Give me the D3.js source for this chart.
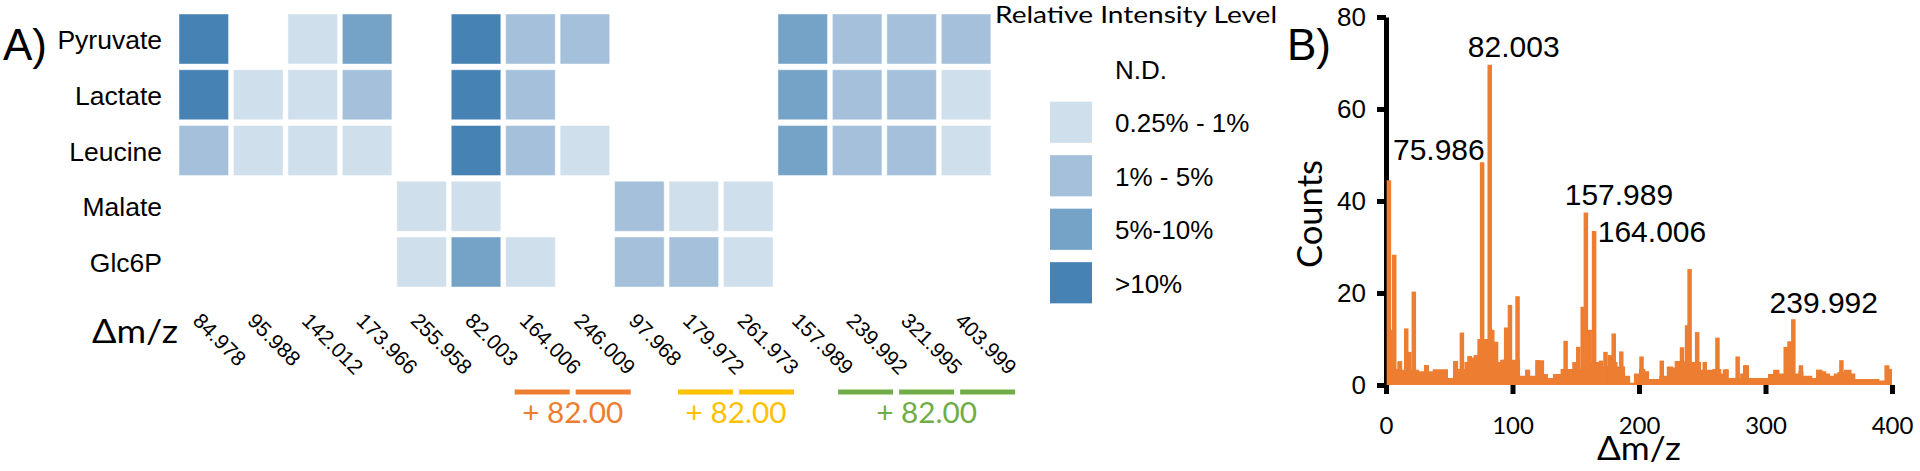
<!DOCTYPE html>
<html><head><meta charset="utf-8">
<script src="https://cdn.jsdelivr.net/npm/d3@7"></script>
<style>body{margin:0;background:#fff;} svg{display:block}</style>
</head><body>
<svg id="chart" width="1920" height="471"></svg>
<script>
// ---------- Panel A data ----------
const compounds = ["Pyruvate", "Lactate", "Leucine", "Malate", "Glc6P"];
const deltaMz = ["84.978","95.988","142.012","173.966","255.958","82.003","164.006","246.009","97.968","179.972","261.973","157.989","239.992","321.995","403.999"];
// intensity level per Δm/z column: 0 = N.D., 1 = 0.25-1%, 2 = 1-5%, 3 = 5-10%, 4 = >10%
const pyruvateLevels = [4,0,1,3,0,4,2,2,0,0,0,3,2,2,2];
const lactateLevels  = [4,1,1,2,0,4,2,0,0,0,0,3,2,2,1];
const leucineLevels  = [2,1,1,1,0,4,2,1,0,0,0,3,2,2,1];
const malateLevels   = [0,0,0,0,1,1,0,0,2,1,1,0,0,0,0];
const glc6pLevels    = [0,0,0,0,1,3,1,0,2,2,1,0,0,0,0];
const levelLabels = ["N.D.", "0.25% - 1%", "1% - 5%", "5%-10%", ">10%"];
const levelColors = ["#ffffff", "#d0dfec", "#a4c0da", "#75a3c8", "#4682b4"];
const groupColumns = [[6,7],[9,10],[12,13,14]];
const groupColors = ["#ed7d31", "#ffc000", "#70ad47"];
const groupLabels = ["+ 82.00", "+ 82.00", "+ 82.00"];

// ---------- Panel B data ----------
const baselineMz = [0,3,9,12,26,30,34,37,49,53,57,62,65,68,72,78,84,88,92,100,106,110,114,118,125,128,132,138,146,155,168,170,176,183,189,193,196,200,205,208,216,222,227,229,236,243,249,258,265,268,271,280,283,287,302,306,311,326,330,337,340,345,348,351,354,357,362,368,371,390,394,398,400];
const baselineCounts = [12,3.5,5,3.3,3,4.3,3,3.4,1.5,5.2,3.5,5,6.3,6,6.5,10,5.5,5,5.5,5.5,2,3.3,2,5.4,2.4,1.5,2.4,3.5,3.5,5,5,4,5,4,2,0.5,2.5,3.5,3,1.3,2,4,3.8,5.2,5,5,3.3,3.5,2.5,3.4,1.5,2.5,4.3,1.5,2.4,3.3,2.5,3,2,1.5,3.3,3,2.5,2,2.5,2.8,3.3,2.5,1.3,1,4.3,3.5,5];
const peakMz = [2.3,3.5,6.5,11,16,18.5,22,32,55,60,66,71,74,76,78.5,82,84,87,92,95,98,104,112,120,142,149,152,155.5,158,161,164.5,170,173.5,177,180,186,202,218,230,234,238,240,246,252,262,268,278,284,316,319,322,328,342,360];
const peakCounts = [44.5,12,28.3,5.2,12.3,7.2,20.3,4.3,5.2,11.4,6.3,6.5,10,48.4,10,69.6,12,9.4,5.5,12.5,17.4,19.3,3.3,5.4,9.6,5,8.3,17,37.5,12,33.5,5.3,7.2,6.5,11.2,7.3,6.2,5.3,5.2,8.2,13,25.2,11.5,5,10.3,3.4,6.2,4.3,8.3,9.5,14.3,4.3,3.3,5.4];
const peakLabelText = ["75.986", "82.003", "157.989", "164.006", "239.992"];
const peakLabelMz = [5.5, 64.7, 141.3, 167.4, 303.2];
const peakLabelCount = [48.9, 71.3, 39.1, 31.1, 15.7];
const yTicks = [0, 20, 40, 60, 80];
const xTicks = [0, 100, 200, 300, 400];

const svg = d3.select("#chart");
const ARIAL = "'Liberation Sans', Arial, sans-serif";
const CAL = "Lato, 'Open Sans', sans-serif";
const ORANGE = "#ed7d31";

// ================= Panel A =================
const levelTable = [pyruvateLevels, lactateLevels, leucineLevels, malateLevels, glc6pLevels];
const cells = [];
compounds.forEach((c, r) => deltaMz.forEach((m, i) => cells.push({compound: c, mz: m, level: levelTable[r][i]})));

const xA = d3.scaleBand().domain(deltaMz).range([176.55, 176.55 + 15 * 54.45]).paddingInner(0.09).paddingOuter(0.045);
const yA = d3.scaleBand().domain(compounds).range([11.13, 11.13 + 5 * 55.75]).paddingInner(0.103).paddingOuter(0.0515);

svg.append("text").attr("x", 3).attr("y", 60).attr("font-family", ARIAL).attr("font-size", 44).text("A)");

svg.append("g").selectAll("rect").data(cells.filter(d => d.level > 0)).join("rect")
  .attr("x", d => xA(d.mz)).attr("y", d => yA(d.compound))
  .attr("width", xA.bandwidth()).attr("height", yA.bandwidth())
  .attr("fill", d => levelColors[d.level])
  .attr("stroke", "#ffffff").attr("stroke-opacity", 0.45).attr("stroke-width", 1);

svg.append("g").selectAll("text").data(compounds).join("text")
  .attr("x", 162).attr("y", d => yA(d) + yA.bandwidth() / 2 + 10)
  .attr("text-anchor", "end").attr("font-family", ARIAL).attr("font-size", 26.5).text(d => d);

svg.append("g").selectAll("text").data(deltaMz).join("text")
  .attr("transform", d => `translate(${xA(d) + xA.bandwidth() / 2 - 12},322) rotate(45)`)
  .attr("font-family", ARIAL).attr("font-size", 21).text(d => d);

svg.append("text").attr("x", 92).attr("y", 343).attr("font-family", CAL).attr("font-size", 32)
  .attr("textLength", 86).attr("lengthAdjust", "spacingAndGlyphs").text("Δm/z");

// underline groups
groupColumns.forEach((cols, g) => {
  const center = d3.mean(cols, i => xA(deltaMz[i]) + xA.bandwidth() / 2) + 15;
  const n = cols.length;
  cols.forEach((c, k) => {
    const cx = center + (k - (n - 1) / 2) * 61;
    svg.append("line").attr("x1", cx - 27.5).attr("x2", cx + 27.5).attr("y1", 392).attr("y2", 392)
      .attr("stroke", groupColors[g]).attr("stroke-width", 5);
  });
  svg.append("text").attr("x", center).attr("y", 423).attr("text-anchor", "middle")
    .attr("font-family", CAL).attr("font-size", 29).attr("fill", groupColors[g])
    .attr("textLength", 101).attr("lengthAdjust", "spacingAndGlyphs").text(groupLabels[g]);
});

// legend
svg.append("text").attr("x", 995).attr("y", 23).attr("font-family", CAL).attr("font-size", 24)
  .attr("textLength", 282).attr("lengthAdjust", "spacingAndGlyphs").text("Relative Intensity Level");
const yL = d3.scaleBand().domain(levelLabels).range([42, 42 + 5 * 53.5]).paddingInner(0.23).paddingOuter(0.115);
const leg = svg.append("g");
leg.selectAll("rect").data(levelLabels.slice(1)).join("rect")
  .attr("x", 1050).attr("y", d => yL(d)).attr("width", 42).attr("height", yL.bandwidth())
  .attr("fill", (d, i) => levelColors[i + 1]);
leg.selectAll("text").data(levelLabels).join("text")
  .attr("x", 1115).attr("y", d => yL(d) + yL.bandwidth() / 2 + 10)
  .attr("font-family", ARIAL).attr("font-size", 26).text(d => d);

// ================= Panel B =================
const xB = d3.scaleLinear().domain([0, 400]).range([1386, 1892]);
const yB = d3.scaleLinear().domain([0, 80]).range([385, 17]);

svg.append("text").attr("x", 1287).attr("y", 60).attr("font-family", ARIAL).attr("font-size", 44).text("B)");

const baseline = baselineMz.map((m, i) => [m, baselineCounts[i]]);
svg.append("path").datum(baseline)
  .attr("d", d3.area().x(d => xB(d[0])).y0(yB(0)).y1(d => yB(d[1])).curve(d3.curveStepAfter))
  .attr("fill", ORANGE);

const gx = svg.append("g").attr("transform", `translate(0,${yB(0)})`)
  .call(d3.axisBottom(xB).tickValues(xTicks).tickSize(9).tickPadding(23).tickSizeOuter(0));
gx.select(".domain").remove();
gx.selectAll(".tick line").attr("stroke", "#000").attr("stroke-width", 5);
gx.selectAll(".tick text").attr("font-family", CAL).attr("font-size", 24).attr("fill", "#000");

const gy = svg.append("g").attr("transform", `translate(${xB(0)},0)`)
  .call(d3.axisLeft(yB).tickValues(yTicks).tickSize(9).tickPadding(11).tickSizeOuter(0));
gy.select(".domain").attr("stroke", "#000").attr("stroke-width", 5);
gy.selectAll(".tick line").attr("stroke", "#000").attr("stroke-width", 5);
gy.selectAll(".tick text").attr("font-family", ARIAL).attr("font-size", 26).attr("fill", "#000");

svg.append("g").selectAll("line").data(peakMz.map((m, i) => [m, peakCounts[i]])).join("line")
  .attr("x1", d => xB(d[0])).attr("x2", d => xB(d[0]))
  .attr("y1", yB(0)).attr("y2", d => yB(d[1]))
  .attr("stroke", ORANGE).attr("stroke-width", 4.5);

svg.append("g").selectAll("text").data(peakLabelText).join("text")
  .attr("x", (d, i) => xB(peakLabelMz[i])).attr("y", (d, i) => yB(peakLabelCount[i]))
  .attr("font-family", ARIAL).attr("font-size", 30).text(d => d);

svg.append("text").attr("transform", `translate(1322,214) rotate(-90)`).attr("text-anchor", "middle")
  .attr("font-family", CAL).attr("font-size", 34)
  .attr("textLength", 108).attr("lengthAdjust", "spacingAndGlyphs").text("Counts");

svg.append("text").attr("x", xB(200)).attr("y", 460).attr("text-anchor", "middle")
  .attr("font-family", CAL).attr("font-size", 32)
  .attr("textLength", 84).attr("lengthAdjust", "spacingAndGlyphs").text("Δm/z");
</script>
</body></html>
